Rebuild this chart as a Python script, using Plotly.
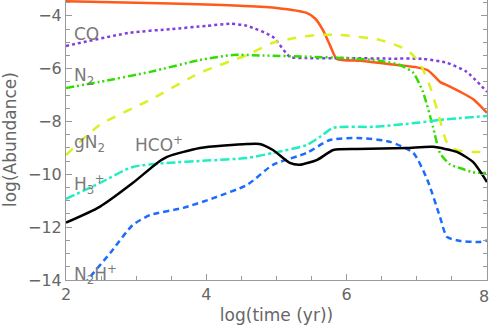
import plotly.graph_objects as go

# log(time) grid points and log(abundance) per species
co_t = [2.0, 2.91, 3.5, 4.0, 4.34, 4.58, 4.95, 5.19, 5.43, 6.0, 6.6, 7.09, 7.43, 7.71, 8.0]
co_y = [-5.14, -4.64, -4.5, -4.38, -4.3, -4.38, -4.8, -5.55, -5.6, -5.6, -5.62, -5.63, -5.78, -6.12, -6.88]

orange_t = [2.0, 3.0, 4.0, 4.48, 5.0, 5.43, 5.55, 5.66, 5.76, 5.86, 6.2, 6.72, 7.0, 7.15, 7.23, 7.33, 7.45, 7.62, 7.8, 8.0]
orange_y = [-3.45, -3.5, -3.57, -3.62, -3.7, -3.89, -4.1, -4.53, -5.1, -5.63, -5.7, -5.86, -5.95, -6.05, -6.23, -6.5, -6.65, -6.88, -7.15, -7.67]

n2_t = [2.0, 2.48, 3.2, 3.91, 4.38, 4.8, 5.5, 6.0, 6.47, 6.76, 6.95, 7.09, 7.23, 7.33, 7.47, 7.6, 7.8, 8.0]
n2_y = [-6.73, -6.5, -6.12, -5.67, -5.48, -5.5, -5.55, -5.6, -5.7, -5.86, -6.16, -6.9, -8.2, -9.19, -9.62, -9.75, -9.92, -9.95]

gn2_t = [2.0, 2.48, 3.2, 3.91, 4.58, 4.95, 5.3, 5.58, 5.9, 6.47, 6.86, 7.04, 7.19, 7.33, 7.43, 7.57, 7.8, 8.0]
gn2_y = [-9.27, -8.13, -7.18, -6.16, -5.48, -5.02, -4.82, -4.72, -4.72, -4.91, -5.29, -5.78, -6.69, -7.94, -8.8, -9.08, -9.15, -9.15]

h3_t = [2.0, 2.48, 2.95, 3.44, 4.0, 4.58, 4.95, 5.43, 5.62, 5.81, 6.38, 7.0, 7.33, 8.0]
h3_y = [-10.93, -10.33, -9.72, -9.57, -9.48, -9.38, -9.19, -8.89, -8.58, -8.24, -8.2, -8.05, -7.94, -7.79]

hco_t = [2.0, 2.48, 2.95, 3.3, 3.44, 3.91, 4.58, 4.76, 4.95, 5.19, 5.33, 5.58, 5.81, 6.15, 6.86, 7.23, 7.57, 7.8, 8.0]
hco_y = [-11.83, -11.23, -10.33, -9.57, -9.34, -9.0, -8.85, -8.85, -9.08, -9.57, -9.64, -9.45, -9.08, -9.04, -9.0, -8.96, -9.15, -9.53, -10.29]

n2h_t = [2.2, 2.31, 2.63, 2.95, 3.2, 3.67, 4.1, 4.58, 4.95, 5.43, 5.76, 6.15, 6.62, 6.95, 7.15, 7.33, 7.43, 7.62, 7.9, 8.0]
n2h_y = [-14.5, -14.0, -12.98, -11.92, -11.54, -11.27, -10.9, -10.4, -9.64, -9.19, -8.7, -8.62, -8.77, -9.19, -10.21, -11.61, -12.37, -12.52, -12.56, -12.5]

x_ticks = [2, 4, 6, 8]
y_ticks = [-14, -12, -10, -8, -6, -4]

series = [
    (orange_t, orange_y, "#ff5a1a", "solid"),
    (co_t, co_y, "#8040e0", "dot"),
    (gn2_t, gn2_y, "#dcf020", "dash"),
    (n2_t, n2_y, "#33dd00", "8px,3px,2px,3px,2px,3px"),
    (h3_t, h3_y, "#20eec0", "dashdot"),
    (n2h_t, n2h_y, "#1a6cff", "6px,4px"),
    (hco_t, hco_y, "#000000", "solid"),
]

fig = go.Figure()
for t, y, c, d in series:
    fig.add_trace(go.Scatter(x=t, y=y, mode="lines", cliponaxis=True, hoverinfo="skip",
                             line=dict(color=c, width=2.5, dash=d, shape="spline", smoothing=0.6)))

labels = [
    (2.08, -4.7, "CO"),
    (2.08, -6.3, "N<sub>2</sub>"),
    (2.08, -8.85, "gN<sub>2</sub>"),
    (2.95, -8.85, "HCO<sup>+</sup>"),
    (2.08, -10.4, "H<sub>3</sub><sup>+</sup>"),
    (2.08, -13.8, "N<sub>2</sub>H<sup>+</sup>"),
]
for x, y, txt in labels:
    fig.add_annotation(x=x, y=y, text=txt, showarrow=False, xanchor="left", yanchor="middle",
                       font=dict(size=17, color="#7a7a7a"))

gray = "#666666"
axis_style = dict(showgrid=False, zeroline=False, showline=True, linecolor="#9a9a9a", linewidth=1,
                  ticks="inside", tickcolor="#9a9a9a", ticklen=6, automargin=False,
                  tickfont=dict(size=16, color=gray))

fig.update_xaxes(range=[2, 8], tickvals=x_ticks[:-1],
                 minor=dict(dtick=0.5, ticks="inside", ticklen=4, tickcolor="#9a9a9a"),
                 title=dict(text="log(time (yr))", font=dict(size=17, color=gray), standoff=5), **axis_style)
fig.update_yaxes(range=[-14, -3.4], tickvals=y_ticks,
                 ticktext=["\u2212" + str(abs(v)) for v in y_ticks],
                 minor=dict(dtick=0.5, ticks="inside", ticklen=4, tickcolor="#9a9a9a"), mirror="ticks",
                 **axis_style)

# y title placed near the page's left edge, as in the original
fig.add_annotation(x=0, y=0.5, xref="paper", yref="paper", xanchor="center", yanchor="middle",
                   xshift=-56, textangle=-90, text="log(Abundance)", showarrow=False,
                   font=dict(size=17, color=gray))

# last x tick label sits on the right edge of the page
fig.add_annotation(x=x_ticks[-1], y=0, xref="x", yref="paper", xanchor="right", yanchor="top",
                   xshift=4, yshift=-5, text=str(x_ticks[-1]), showarrow=False,
                   font=dict(size=16, color=gray))

fig.update_layout(width=490, height=327, margin=dict(l=66, r=3, t=0, b=47),
                  plot_bgcolor="white", paper_bgcolor="white", showlegend=False,
                  font=dict(family="DejaVu Sans, Liberation Sans, sans-serif"))

fig.write_html("out.html", config={"displayModeBar": False},
               post_script="document.body.style.margin='0';")
